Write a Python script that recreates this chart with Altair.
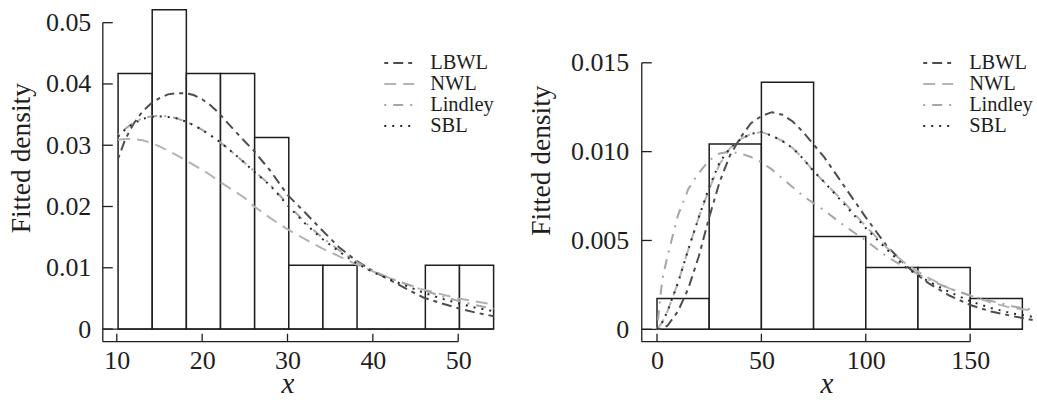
import altair as alt
import pandas as pd

# ---------------- data: left panel ----------------
left_edges = [10.15, 14.15, 18.15, 22.15, 26.15, 30.15, 34.15, 38.15, 42.15, 46.15, 50.15, 54.15]
left_heights = [0.0417, 0.0521, 0.0417, 0.0417, 0.03125, 0.0104, 0.0104, 0.0, 0.0, 0.0104, 0.0104]

left_x = [10.15, 11, 12, 13, 14, 15, 16, 17, 18, 19, 20, 21, 22, 23, 24, 25, 26, 28, 30, 32,
          34, 36, 38, 40, 42, 44, 46, 48, 50, 52, 54.15]
left_lbwl = [0.0278, 0.0310, 0.0336, 0.0355, 0.0368, 0.0377, 0.0383, 0.0385, 0.0385, 0.0382,
             0.0375, 0.0365, 0.0352, 0.0336, 0.0321, 0.0306, 0.0292, 0.0258, 0.0219, 0.0191,
             0.0162, 0.0134, 0.0112, 0.0095, 0.0080, 0.0065, 0.0051, 0.0042, 0.0034, 0.0027, 0.0021]
left_nwl = [0.0309, 0.0310, 0.0310, 0.0308, 0.0304, 0.0298, 0.0291, 0.0284, 0.0276, 0.0268,
            0.0260, 0.0251, 0.0241, 0.0232, 0.0223, 0.0214, 0.0201, 0.0181, 0.0163, 0.0147,
            0.0132, 0.0119, 0.0106, 0.0094, 0.0083, 0.0073, 0.0064, 0.0057, 0.0050, 0.0045, 0.0040]
left_lindley = [0.0316, 0.0327, 0.0337, 0.0344, 0.0347, 0.0348, 0.0347, 0.0344, 0.0339, 0.0333,
                0.0325, 0.0316, 0.0306, 0.0295, 0.0283, 0.0271, 0.0259, 0.0235, 0.0204, 0.0175,
                0.0150, 0.0129, 0.0110, 0.0095, 0.0083, 0.0073, 0.0063, 0.0054, 0.0046, 0.0039, 0.0033]
left_sbl = [0.0314, 0.0326, 0.0336, 0.0343, 0.0346, 0.0347, 0.0346, 0.0344, 0.0339, 0.0333,
            0.0325, 0.0316, 0.0306, 0.0295, 0.0283, 0.0271, 0.0258, 0.0234, 0.0202, 0.0173,
            0.0148, 0.0127, 0.0108, 0.0093, 0.0081, 0.0070, 0.0059, 0.0050, 0.0042, 0.0035, 0.0029]

left_xticks = [10, 20, 30, 40, 50]
left_yticks = [0, 0.01, 0.02, 0.03, 0.04, 0.05]

# ---------------- data: right panel ----------------
right_edges = [0, 25, 50, 75, 100, 125, 150, 175]
right_heights = [0.00174, 0.01043, 0.01391, 0.00522, 0.00348, 0.00348, 0.00174]

right_x = [0, 2.5, 5, 10, 15, 20, 25, 30, 35, 40, 45, 50, 55, 60, 65, 70, 75, 80, 90, 100,
           110, 120, 130, 140, 150, 160, 170, 180]
right_lbwl = [0.0, 0.00005, 0.0002, 0.0010, 0.0023, 0.0041, 0.0063, 0.0083, 0.0098, 0.0108,
              0.0116, 0.0120, 0.01222, 0.01208, 0.0117, 0.0111, 0.0104, 0.0097, 0.0080, 0.0063,
              0.0047, 0.0035, 0.0026, 0.0019, 0.00137, 0.0010, 0.00075, 0.00052]
right_nwl = [0.0, 0.0004, 0.0010, 0.0026, 0.0045, 0.0063, 0.0079, 0.0093, 0.0102, 0.0107,
             0.0110, 0.0111, 0.0109, 0.0106, 0.0102, 0.0096, 0.0089, 0.0083, 0.0071, 0.0058,
             0.0046, 0.0036, 0.0029, 0.0023, 0.0019, 0.0015, 0.0012, 0.00105]
right_lindley = [0.0, 0.0028, 0.0041, 0.0064, 0.0079, 0.0088, 0.0095, 0.0099, 0.0100, 0.0099,
                 0.0097, 0.0094, 0.0090, 0.0085, 0.0080, 0.0075, 0.0071, 0.0067, 0.0058, 0.0050,
                 0.0041, 0.0034, 0.0028, 0.0023, 0.0019, 0.0016, 0.0013, 0.0011]
right_sbl = [0.0, 0.0004, 0.0010, 0.0026, 0.0045, 0.0063, 0.0080, 0.0094, 0.0102, 0.0107,
             0.0110, 0.0111, 0.0109, 0.0106, 0.0102, 0.0096, 0.0089, 0.0083, 0.0070, 0.0057,
             0.0045, 0.0034, 0.0027, 0.0021, 0.00158, 0.0012, 0.0009, 0.0007]

right_xticks = [0, 50, 100, 150]
right_yticks = [0, 0.005, 0.010, 0.015]

series_names = ["LBWL", "NWL", "Lindley", "SBL"]
series_colors = ["#4d4d4d", "#b3b3b3", "#a6a6a6", "#2b2b2b"]
series_dashes = [[4, 5, 10, 5], [12, 7], [2, 7, 10, 7], [2, 6]]

FONT = "Liberation Serif"
INK = "#1e1e1e"
W, H = 392, 335


def curves_frame(xs, cols):
    rows = []
    for name, ys in zip(series_names, cols):
        for i, (xv, yv) in enumerate(zip(xs, ys)):
            rows.append({"series": name, "x": xv, "y": yv, "i": i})
    return pd.DataFrame(rows)


def panel(edges, heights, xs, cols, xdom, ydom, xticks, yticks, yfmt,
          title_x, title_y, ytitle_x, label_pad):
    xs_scale = alt.Scale(domain=xdom, nice=False, zero=False)
    ys_scale = alt.Scale(domain=ydom, nice=False, zero=False)

    xaxis = alt.Axis(
        values=xticks, domain=False, ticks=False, grid=False,
        labelFont=FONT, labelFontSize=26, labelColor=INK, labelPadding=6,
        labelFlush=False, labelOverlap=False,
        title="x", titleFont=FONT, titleFontSize=29, titleFontStyle="italic",
        titleFontWeight="normal", titleColor=INK, titleX=title_x, titleY=51,
        titleBaseline="alphabetic", titleAlign="center")
    yaxis = alt.Axis(
        values=yticks, domain=False, ticks=False, grid=False,
        labelFont=FONT, labelFontSize=26, labelColor=INK, labelPadding=label_pad,
        labelFlush=False, labelOverlap=False,
        labelExpr=f"datum.value == 0 ? '0' : format(datum.value, '{yfmt}')",
        title="Fitted density", titleFont=FONT, titleFontSize=27.5,
        titleFontWeight="normal", titleColor=INK, titleAngle=270,
        titleX=ytitle_x, titleY=title_y, titleBaseline="alphabetic",
        titleAlign="center")

    def X(f):
        return alt.X(f, scale=xs_scale, axis=xaxis)

    def Y(f):
        return alt.Y(f, scale=ys_scale, axis=yaxis)

    bars_df = pd.DataFrame({"x0": edges[:-1], "x1": edges[1:], "h": heights})
    bars_df["b"] = 0.0

    bars = alt.Chart(bars_df).mark_rect(
        fill="white", stroke=INK, strokeWidth=1.5
    ).encode(x=X("x0:Q"), x2="x1:Q", y=Y("b:Q"), y2="h:Q")

    base_df = pd.DataFrame({"x0": [xdom[0]], "x1": [edges[-1]], "y": [0.0]})
    baseline = alt.Chart(base_df).mark_rule(color=INK, strokeWidth=1.3).encode(
        x=X("x0:Q"), x2="x1:Q", y=Y("y:Q"))

    yline_df = pd.DataFrame({"x": [xdom[0]], "y0": [ydom[0]], "y1": [yticks[-1]]})
    yline = alt.Chart(yline_df).mark_rule(color=INK, strokeWidth=1.3).encode(
        x=X("x:Q"), y=Y("y0:Q"), y2="y1:Q")

    xline_df = pd.DataFrame({"x0": [xdom[0]], "x1": [xticks[-1]], "y": [ydom[0]]})
    xline = alt.Chart(xline_df).mark_rule(color=INK, strokeWidth=1.3).encode(
        x=X("x0:Q"), x2="x1:Q", y=Y("y:Q"))

    ytk = alt.Chart(pd.DataFrame({"v": yticks})).mark_rule(color=INK, strokeWidth=1.3).encode(
        y=Y("v:Q"), x=alt.value(0), x2=alt.value(10))
    xtk = alt.Chart(pd.DataFrame({"v": xticks})).mark_rule(color=INK, strokeWidth=1.3).encode(
        x=X("v:Q"), y=alt.value(H), y2=alt.value(H - 8))

    legend = alt.Legend(
        orient="none", legendX=281, legendY=46, title=None,
        symbolType="stroke", symbolSize=900, symbolStrokeWidth=2,
        labelFont=FONT, labelFontSize=20.5, labelColor=INK, labelOffset=15,
        clipHeight=19.5, rowPadding=-2.2, padding=0)

    lines = alt.Chart(curves_frame(xs, cols)).mark_line(strokeWidth=2).encode(
        x=X("x:Q"),
        y=Y("y:Q"),
        color=alt.Color("series:N", scale=alt.Scale(domain=series_names, range=series_colors),
                        legend=legend),
        strokeDash=alt.StrokeDash("series:N",
                                  scale=alt.Scale(domain=series_names, range=series_dashes),
                                  legend=legend),
        order="i:Q",
    )

    return alt.layer(bars, baseline, yline, xline, ytk, xtk, lines).properties(width=W, height=H)


left = panel(left_edges, left_heights, left_x,
             [left_lbwl, left_nwl, left_lindley, left_sbl],
             [8.36, 54.2], [-0.00207, 0.0525], left_xticks, left_yticks, ".2f",
             185, 150.6, -73, 12)
right = panel(right_edges, right_heights, right_x,
              [right_lbwl, right_nwl, right_lindley, right_sbl],
              [-7.3, 180.1], [-0.0007, 0.01812], right_xticks, right_yticks, ".3f",
              185, 153, -92, 13)

chart = alt.hconcat(left, right, spacing=30).resolve_scale(
    x="independent", y="independent", color="independent", strokeDash="independent"
).properties(
    padding={"left": 7, "top": 7, "right": 0, "bottom": 0}, background="white"
).configure(
    font=FONT,
    style={"guide-label": {"font": FONT}, "guide-title": {"font": FONT}},
).configure_axis(
    labelFont=FONT, titleFont=FONT
).configure_legend(
    labelFont=FONT
).configure_view(stroke=None)

chart.save("out.html", embed_options={"renderer": "svg", "actions": False})
